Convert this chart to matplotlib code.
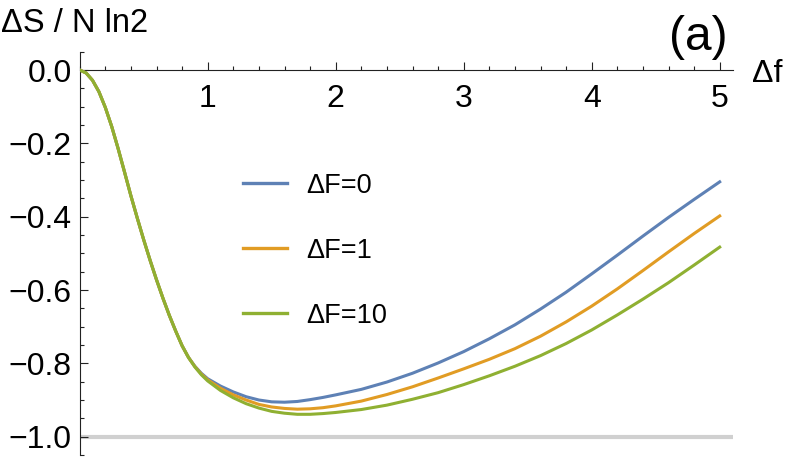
import matplotlib
matplotlib.use("Agg")
import matplotlib.pyplot as plt
from matplotlib.ticker import MultipleLocator

plt.rcParams['font.family'] = ['Liberation Sans', 'DejaVu Sans']

# values
df = [0.00, 0.05, 0.10, 0.15, 0.20, 0.25, 0.30, 0.35, 0.40, 0.45, 0.50,
      0.55, 0.60, 0.65, 0.70, 0.75, 0.80, 0.85,
      0.90, 0.95, 1.00, 1.10, 1.20, 1.30, 1.40, 1.50, 1.60, 1.70, 1.80,
      1.90, 2.00, 2.20, 2.40, 2.60, 2.80, 3.00, 3.20, 3.40, 3.60, 3.80,
      4.00, 4.20, 4.40, 4.60, 4.80, 5.00]

# the three curves coincide on the way down (0 .. 0.85)
drop = [0.000, -0.008, -0.028, -0.059, -0.102, -0.154, -0.214, -0.278,
        -0.343, -0.404, -0.463, -0.519, -0.572, -0.622, -0.669, -0.712,
        -0.752, -0.784]

s_F0 = drop + [-0.808, -0.827, -0.842, -0.862, -0.878, -0.891, -0.900,
               -0.905, -0.906, -0.904, -0.899, -0.893, -0.886,
               -0.871, -0.851, -0.827, -0.799, -0.768, -0.733, -0.695,
               -0.652, -0.606, -0.556, -0.505, -0.453, -0.402, -0.353,
               -0.305]
s_F1 = drop + [-0.809, -0.829, -0.845, -0.868, -0.886, -0.900, -0.912,
               -0.919, -0.923, -0.925, -0.924, -0.921, -0.916,
               -0.903, -0.885, -0.864, -0.840, -0.815, -0.789, -0.760,
               -0.726, -0.687, -0.644, -0.597, -0.547, -0.496, -0.446,
               -0.398]
s_F10 = drop + [-0.810, -0.831, -0.848, -0.874, -0.894, -0.910, -0.922,
                -0.931, -0.936, -0.939, -0.939, -0.937, -0.934,
                -0.926, -0.914, -0.898, -0.880, -0.858, -0.834, -0.808,
                -0.779, -0.746, -0.709, -0.668, -0.625, -0.580, -0.532,
                -0.483]

labels = ["ΔF=0", "ΔF=1", "ΔF=10"]
colors = ["#5E81B5", "#E19C24", "#8FB032"]

xticks = [1, 2, 3, 4, 5]
xticklabels = ["1", "2", "3", "4", "5"]
yticks = [-1.0, -0.8, -0.6, -0.4, -0.2, 0.0]
yticklabels = ["−1.0", "−0.8", "−0.6", "−0.4", "−0.2", "0.0"]

W, H = 789, 458
fig = plt.figure(figsize=(W / 100, H / 100), dpi=100)
x0, x1 = 79.7, 732.5
ytop, ybot = 51.7, 455.0
ax = fig.add_axes([x0 / W, (H - ybot) / H, (x1 - x0) / W, (ybot - ytop) / H])

ax.axhline(-1.0, color="#d0d0d0", lw=3.0, zorder=1)

lines = []
for s, lab, c in zip([s_F0, s_F1, s_F10], labels, colors):
    ln, = ax.plot(df, s, color=c, lw=2.2, label=lab, zorder=3,
                  solid_joinstyle="round")
    lines.append(ln)

ax.set_xlim(0, 5.1)
ax.set_ylim(-1.05, 0.05)

for side in ["top", "right"]:
    ax.spines[side].set_visible(False)
ax.spines["bottom"].set_position(("data", 0))
for side in ["left", "bottom"]:
    ax.spines[side].set_linewidth(0.8)
    ax.spines[side].set_color("#222222")

ax.set_xticks(xticks)
ax.set_xticklabels(xticklabels)
ax.set_yticks(yticks)
ax.set_yticklabels(yticklabels)
ax.xaxis.set_minor_locator(MultipleLocator(0.2))
ax.yaxis.set_minor_locator(MultipleLocator(0.05))

ax.tick_params(axis="x", which="both", direction="in", labelsize=23,
               pad=10, color="#222222", width=0.8)
ax.tick_params(axis="y", which="both", direction="in", labelsize=23,
               pad=5.8, color="#222222", width=0.8)
ax.tick_params(which="major", length=6)
ax.tick_params(which="minor", length=3.2)

leg = ax.legend(handles=lines, loc="upper left", frameon=False,
                fontsize=19.5, handlelength=1.6, handletextpad=0.71,
                labelspacing=1.44, borderpad=0, borderaxespad=0,
                bbox_to_anchor=(243.3 / W, 1 - 172.7 / H),
                bbox_transform=fig.transFigure)
for h in leg.legend_handles:
    h.set_linewidth(2.4)

fig.text(0.7 / W, 1 - 31.7 / H, "ΔS / N ln2", fontsize=23.5,
         ha="left", va="baseline")
fig.text(751.7 / W, 1 - 81.7 / H, "Δf", fontsize=23,
         ha="left", va="baseline")
fig.text(669.3 / W, 1 - 50 / H, "(a)", fontsize=34.5,
         ha="left", va="baseline")

fig.savefig("out.png", dpi=100)
